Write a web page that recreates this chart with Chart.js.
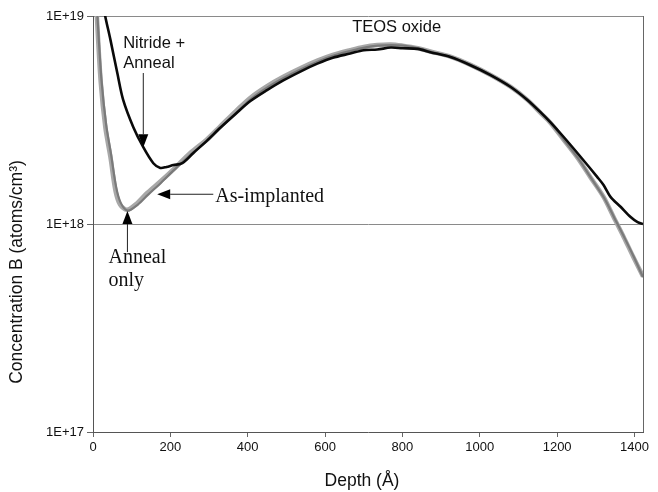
<!DOCTYPE html>
<html>
<head>
<meta charset="utf-8">
<script src="https://cdn.jsdelivr.net/npm/chart.js@4/dist/chart.umd.min.js"></script>
<style>
  html, body { margin: 0; padding: 0; background: #fff; }
  #wrap { width: 658px; height: 492px; }
</style>
</head>
<body>
<div id="wrap"><canvas id="c" width="658" height="492"></canvas></div>
<script>
// ---- data ----
const xTicks = [0, 200, 400, 600, 800, 1000, 1200, 1400];
const yTicks = [1e17, 1e18, 1e19];
const yTickLabels = ["1E+17", "1E+18", "1E+19"];
const xTitle = "Depth (Å)";
const yTitle = "Concentration B (atoms/cm³)";

const nitrideDepth = [20, 32, 45, 63, 78, 104, 130, 156, 174, 190, 208, 231, 259, 296, 329, 370, 407, 450, 492, 540, 580, 620, 665, 700, 735, 770, 800, 840, 872, 924, 976, 1028, 1079, 1123, 1157, 1183, 1217, 1261, 1304, 1320, 1338, 1364, 1390, 1408, 1422];
const nitrideConc  = [1.3e19, 9.9e18, 7.7e18, 5.3e18, 3.95e18, 2.93e18, 2.34e18, 1.96e18, 1.86e18, 1.88e18, 1.92e18, 1.96e18, 2.19e18, 2.53e18, 2.9e18, 3.4e18, 3.9e18, 4.4e18, 4.9e18, 5.45e18, 5.9e18, 6.3e18, 6.6e18, 6.85e18, 6.9e18, 7.05e18, 7.0e18, 6.95e18, 6.7e18, 6.35e18, 5.8e18, 5.2e18, 4.57e18, 3.95e18, 3.45e18, 3.08e18, 2.62e18, 2.1e18, 1.68e18, 1.54e18, 1.35e18, 1.21e18, 1.08e18, 1.02e18, 1.0e18];

const asImplDepth = [0, 10, 20, 32, 45, 58, 70, 88, 114, 140, 174, 208, 252, 295, 329, 370, 407, 450, 492, 540, 580, 620, 665, 700, 735, 770, 800, 840, 872, 924, 976, 1028, 1079, 1123, 1157, 1183, 1217, 1253, 1286, 1320, 1346, 1372, 1397, 1422];
const asImplConc  = [2.5e19, 1.0e19, 4.8e18, 2.9e18, 2.1e18, 1.45e18, 1.24e18, 1.17e18, 1.26e18, 1.41e18, 1.6e18, 1.83e18, 2.2e18, 2.56e18, 2.95e18, 3.5e18, 4.05e18, 4.6e18, 5.1e18, 5.65e18, 6.1e18, 6.5e18, 6.85e18, 7.1e18, 7.25e18, 7.3e18, 7.2e18, 7.0e18, 6.75e18, 6.38e18, 5.82e18, 5.2e18, 4.57e18, 3.95e18, 3.42e18, 3.06e18, 2.54e18, 2.08e18, 1.68e18, 1.35e18, 1.08e18, 8.67e17, 6.94e17, 5.6e17];

const annealDepth = [0, 12, 22, 34, 46, 60, 72, 90, 116, 142, 176, 210, 254, 297, 331, 372, 409, 452, 494, 542, 582, 622, 667, 702, 737, 772, 802, 842, 874, 926, 978, 1030, 1081, 1125, 1159, 1185, 1219, 1255, 1288, 1322, 1348, 1374, 1399, 1422];
const annealConc  = [2.4e19, 9.6e18, 4.9e18, 3.0e18, 2.2e18, 1.5e18, 1.26e18, 1.16e18, 1.24e18, 1.38e18, 1.58e18, 1.82e18, 2.17e18, 2.52e18, 2.92e18, 3.45e18, 4.0e18, 4.55e18, 5.05e18, 5.6e18, 6.05e18, 6.45e18, 6.8e18, 7.05e18, 7.2e18, 7.25e18, 7.2e18, 7.0e18, 6.72e18, 6.35e18, 5.8e18, 5.18e18, 4.55e18, 3.93e18, 3.4e18, 3.04e18, 2.52e18, 2.06e18, 1.66e18, 1.33e18, 1.07e18, 8.6e17, 6.9e17, 5.55e17];

// annotation texts with anchor positions in data space (depth, concentration)
const labelTexts = ["TEOS oxide", "Nitride +", "Anneal", "As-implanted", "Anneal", "only"];
const labelAnchors = [[785, 8.85e18], [78, 7.41e18], [78, 5.94e18], [316, 1.35e18], [40, 6.87e17], [40, 5.32e17]];
const labelAlign = ["center", "left", "left", "left", "left", "left"];
const SANS = "'Liberation Sans', Arial, sans-serif";
const SERIF = "'Liberation Serif', 'Times New Roman', serif";
const labelFonts = ["16.5px " + SANS, "16.5px " + SANS, "16.5px " + SANS, "20px " + SERIF, "20px " + SERIF, "20px " + SERIF];
// arrows: [fromDepth, fromConc, toDepth, toConc]
const arrows = [[130, 5.32e18, 130, 2.34e18], [311, 1.39e18, 166, 1.39e18], [89, 7.33e17, 89, 1.155e18]];

const toPts = (xs, ys) => xs.map((x, i) => ({ x: x, y: ys[i] }));

const annotationPlugin = {
  id: 'annot',
  afterDatasetsDraw(chart) {
    const { ctx, chartArea, scales } = chart;
    const xs = scales.x, ys = scales.y;
    ctx.save();
    // right frame line
    ctx.strokeStyle = '#666';
    ctx.lineWidth = 1;
    ctx.beginPath();
    ctx.moveTo(Math.round(chartArea.right) + 0.5, chartArea.top);
    ctx.lineTo(Math.round(chartArea.right) + 0.5, chartArea.bottom);
    ctx.stroke();
    // labels
    ctx.fillStyle = '#111';
    ctx.textBaseline = 'middle';
    labelTexts.forEach((t, i) => {
      ctx.font = labelFonts[i];
      ctx.textAlign = labelAlign[i];
      ctx.fillText(t, xs.getPixelForValue(labelAnchors[i][0]), ys.getPixelForValue(labelAnchors[i][1]));
    });
    // arrows
    arrows.forEach(a => {
      const x1 = xs.getPixelForValue(a[0]), y1 = ys.getPixelForValue(a[1]);
      const x2 = xs.getPixelForValue(a[2]), y2 = ys.getPixelForValue(a[3]);
      const ang = Math.atan2(y2 - y1, x2 - x1);
      const hl = 13, hw = 5;
      ctx.strokeStyle = '#222';
      ctx.lineWidth = 1;
      ctx.beginPath();
      ctx.moveTo(x1, y1);
      ctx.lineTo(x2 - Math.cos(ang) * hl, y2 - Math.sin(ang) * hl);
      ctx.stroke();
      ctx.fillStyle = '#000';
      ctx.beginPath();
      ctx.moveTo(x2, y2);
      ctx.lineTo(x2 - Math.cos(ang) * hl - Math.sin(ang) * hw, y2 - Math.sin(ang) * hl + Math.cos(ang) * hw);
      ctx.lineTo(x2 - Math.cos(ang) * hl + Math.sin(ang) * hw, y2 - Math.sin(ang) * hl - Math.cos(ang) * hw);
      ctx.closePath();
      ctx.fill();
    });
    // axis titles
    ctx.fillStyle = '#111';
    ctx.font = "17.5px " + SANS;
    ctx.textAlign = 'center';
    ctx.textBaseline = 'middle';
    ctx.fillText(xTitle, 362, 481);
    ctx.translate(17, 272);
    ctx.rotate(-Math.PI / 2);
    ctx.fillText(yTitle, 0, 0);
    ctx.restore();
  }
};

const tickFont = { family: SANS, size: 13 };

new Chart(document.getElementById('c'), {
  type: 'line',
  data: {
    datasets: [
      { label: 'Nitride + Anneal', data: toPts(nitrideDepth, nitrideConc), borderColor: '#0a0a0a', borderWidth: 2.6, tension: 0.3, clip: 0 },
      { label: 'Anneal only', data: toPts(annealDepth, annealConc), borderColor: '#7a7a7a', borderWidth: 2.2, tension: 0.3, clip: 0 },
      { label: 'As-implanted', data: toPts(asImplDepth, asImplConc), borderColor: '#a8a8a8', borderWidth: 4.5, tension: 0.3, clip: 0 }
    ]
  },
  options: {
    responsive: false,
    animation: false,
    events: [],
    elements: { point: { radius: 0 } },
    layout: { padding: { top: 16, right: 15, left: 0, bottom: 0 } },
    plugins: { legend: { display: false }, tooltip: { enabled: false } },
    scales: {
      x: {
        type: 'linear',
        min: 0, max: 1422,
        afterBuildTicks: s => { s.ticks = xTicks.map(v => ({ value: v })); },
        afterFit: s => { s.height = 60; },
        grid: { drawOnChartArea: false, drawTicks: true, tickLength: 5, tickColor: '#666' },
        border: { display: true, color: '#555', width: 1 },
        ticks: { font: tickFont, color: '#111', padding: 3, maxRotation: 0, callback: v => String(v) },
        title: { display: false }
      },
      y: {
        type: 'logarithmic',
        min: 1e17, max: 1e19,
        afterBuildTicks: s => { s.ticks = yTicks.map(v => ({ value: v })); },
        afterFit: s => { s.width = 93; },
        grid: {
          drawOnChartArea: true, drawTicks: true, tickLength: 6,
          color: c => (c.tick && c.tick.value === 1e17) ? 'rgba(0,0,0,0)' : '#8a8a8a',
          tickColor: '#666'
        },
        border: { display: true, color: '#555', width: 1 },
        ticks: { font: tickFont, color: '#111', padding: 3, callback: v => yTickLabels[yTicks.indexOf(v)] ?? '' },
        title: { display: false }
      }
    }
  },
  plugins: [annotationPlugin]
});
</script>
</body>
</html>
